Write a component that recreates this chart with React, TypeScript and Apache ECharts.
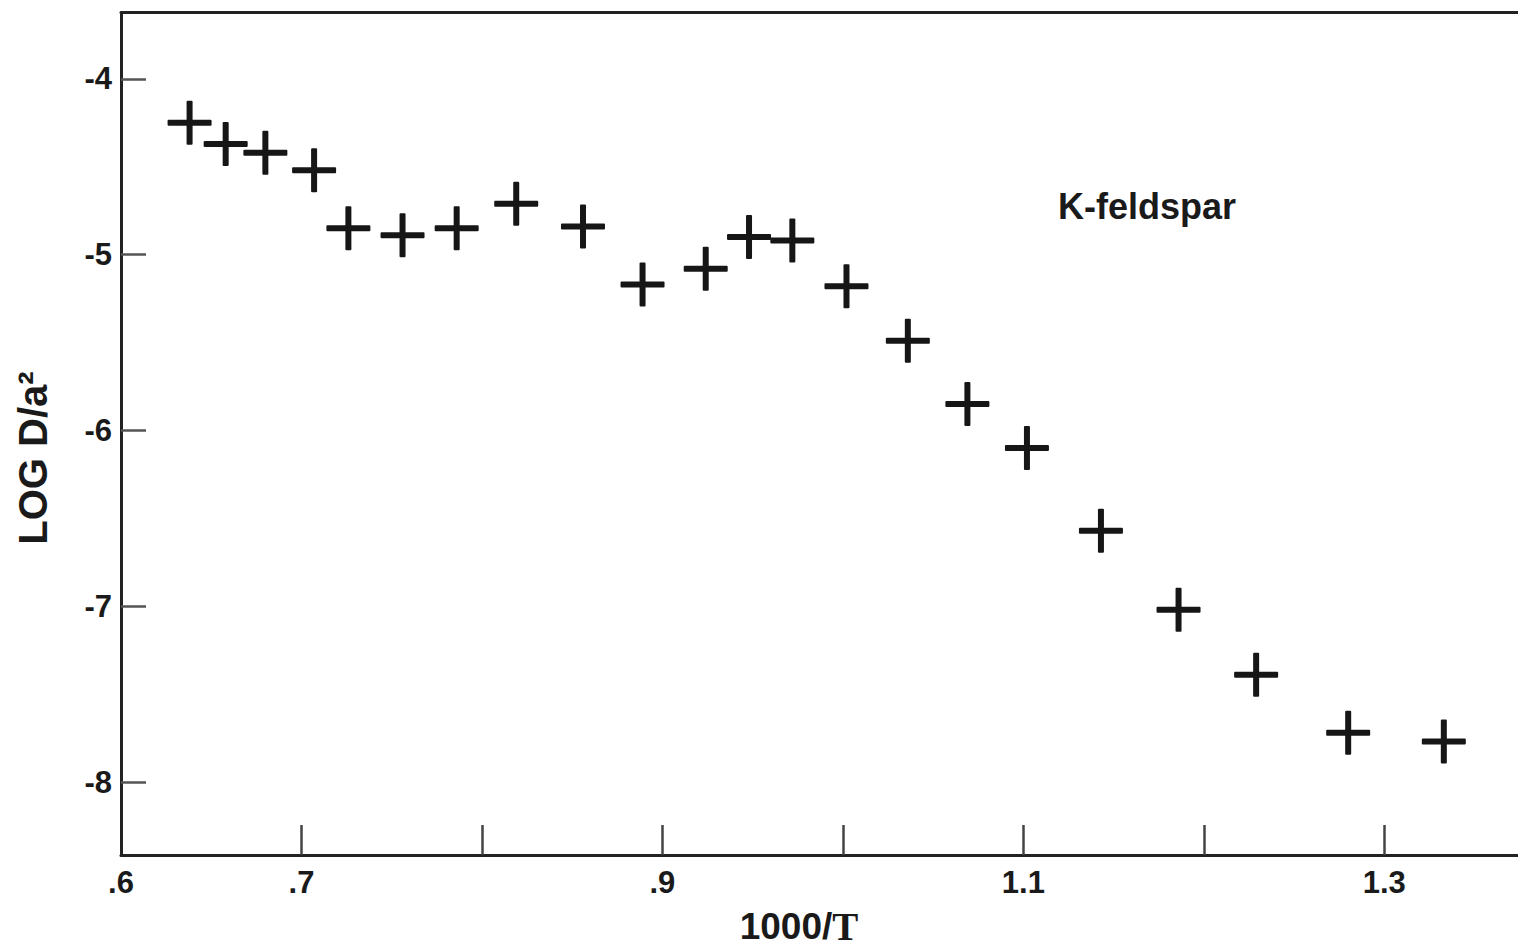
import React, { useEffect, useRef } from "react";
import * as echarts from "echarts";

// 1000/T values (x) and LOG D/a² values (y)
const invTemp = [
  0.638, 0.658, 0.68, 0.707, 0.726, 0.756, 0.786, 0.819, 0.856, 0.889, 0.924,
  0.948, 0.972, 1.002, 1.036, 1.069, 1.102, 1.143, 1.186, 1.229, 1.28, 1.333,
];
const logDa2 = [
  -4.25, -4.37, -4.42, -4.52, -4.85, -4.89, -4.85, -4.71, -4.84, -5.17, -5.08,
  -4.9, -4.92, -5.18, -5.49, -5.85, -6.1, -6.57, -7.02, -7.39, -7.72, -7.77,
];
const xTicks = [0.7, 0.8, 0.9, 1.0, 1.1, 1.2, 1.3];
const xTickLabels = [0.6, 0.7, 0.9, 1.1, 1.3];
const yTicks = [-8, -7, -6, -5, -4];
const xRange = [0.6, 1.3741];
const yRange = [-8.415, -3.6225];
const seriesName = "K-feldspar";

const PLUS =
  "path://M19,1 Q19,0 20,0 L24,0 Q25,0 25,1 L25,19 L43,19 Q44,19 44,20 L44,24 Q44,25 43,25 L25,25 L25,43 Q25,44 24,44 L20,44 Q19,44 19,43 L19,25 L1,25 Q0,25 0,24 L0,20 Q0,19 1,19 L19,19 Z";

const SANS = "'Liberation Sans', Arial, Helvetica, sans-serif";
const SERIF = "'Liberation Serif', 'Times New Roman', serif";

export default function App() {
  const ref = useRef<HTMLDivElement>(null);

  useEffect(() => {
    if (!ref.current) return;
    const chart = echarts.init(ref.current, undefined, { renderer: "svg" });
    const data = invTemp.map((x, i) => [x, logDa2[i]]);
    const labelStyle = {
      fontFamily: SANS,
      fontWeight: "bold" as const,
      fontSize: 31,
      color: "#1a1a1a",
    };
    chart.setOption({
      animation: false,
      backgroundColor: "#ffffff",
      grid: { left: 121, right: 0, top: 12.5, bottom: 95, containLabel: false },
      xAxis: [
        {
          type: "value",
          position: "bottom",
          min: xRange[0],
          max: xRange[1],
          axisLine: { show: true, lineStyle: { color: "#222", width: 3 } },
          axisTick: {
            show: true,
            inside: true,
            length: 30,
            customValues: xTicks,
            lineStyle: { color: "#444", width: 2.5 },
          },
          axisLabel: {
            ...labelStyle,
            margin: 12,
            customValues: xTickLabels,
            formatter: (v: number) => String(Number(v.toFixed(2))).replace(/^0\./, "."),
          },
          splitLine: { show: false },
        },
        {
          type: "value",
          position: "top",
          min: xRange[0],
          max: xRange[1],
          axisLine: { show: true, onZero: false, lineStyle: { color: "#222", width: 3 } },
          axisTick: { show: false },
          axisLabel: { show: false },
          splitLine: { show: false },
        },
      ],
      yAxis: {
        type: "value",
        min: yRange[0],
        max: yRange[1],
        axisLine: { show: true, onZero: false, lineStyle: { color: "#222", width: 3 } },
        axisTick: {
          show: true,
          inside: true,
          length: 25,
          customValues: yTicks,
          lineStyle: { color: "#555", width: 2.5 },
        },
        axisLabel: {
          ...labelStyle,
          margin: 9,
          customValues: yTicks,
          formatter: (v: number) => String(Math.round(v)),
        },
        splitLine: { show: false },
      },
      series: [
        {
          name: seriesName,
          type: "scatter",
          xAxisIndex: 0,
          data,
          symbol: PLUS,
          symbolSize: 44,
          itemStyle: { color: "#161616", opacity: 1 },
        },
      ],
      graphic: [
        {
          type: "text",
          x: 1058,
          y: 206,
          style: {
            text: seriesName,
            fontFamily: SANS,
            fontWeight: "bold",
            fontSize: 36,
            fill: "#1a1a1a",
            align: "left",
            verticalAlign: "middle",
          },
        },
        {
          type: "text",
          x: 799,
          y: 926,
          style: {
            text: "{a|1000/}{b|T}",
            align: "center",
            verticalAlign: "middle",
            rich: {
              a: { fontFamily: SANS, fontWeight: "bold", fontSize: 37, fill: "#1a1a1a" },
              b: { fontFamily: SERIF, fontWeight: "bold", fontSize: 39, fill: "#1a1a1a" },
            },
          },
        },
        {
          type: "text",
          x: 33,
          y: 458,
          rotation: Math.PI / 2,
          style: {
            text: "LOG D/a²",
            fontFamily: SANS,
            fontWeight: "bold",
            fontSize: 40,
            fill: "#1a1a1a",
            align: "center",
            verticalAlign: "middle",
          },
        },
      ],
    });
    return () => chart.dispose();
  }, []);

  return (
    <div
      ref={ref}
      style={{ position: "absolute", left: 0, top: 0, width: 1518, height: 950 }}
    />
  );
}
